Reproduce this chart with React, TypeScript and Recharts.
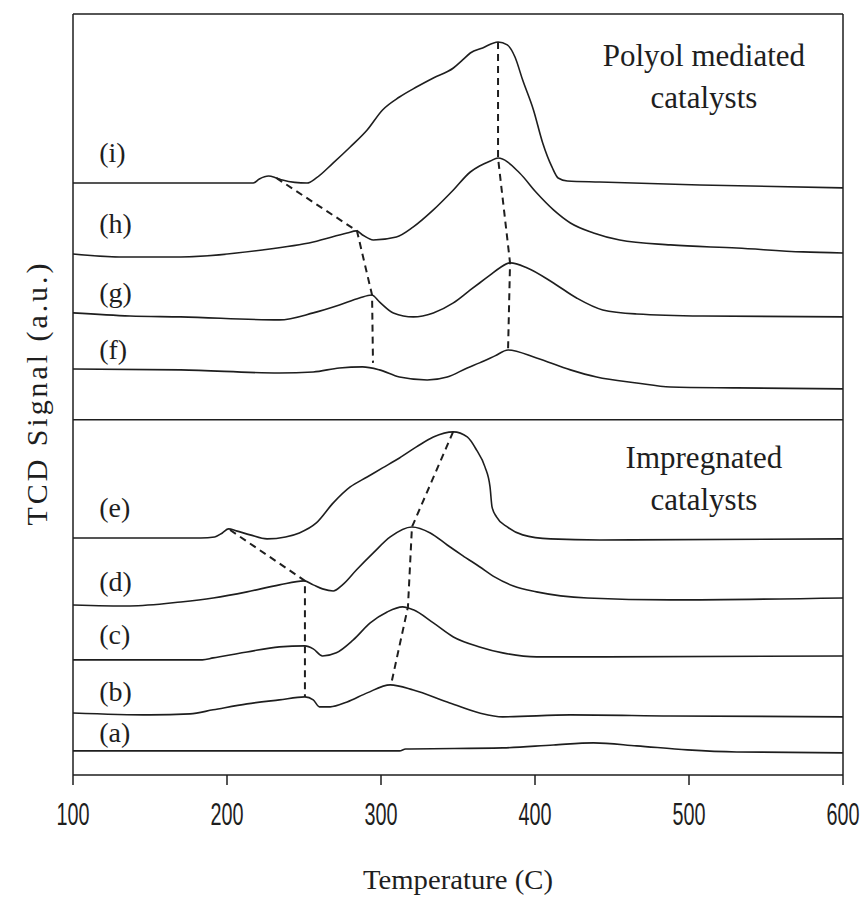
import React from "react";
import { ComposedChart, Line, Scatter, XAxis, YAxis, ReferenceLine, Label } from "recharts";

// [temperature (C), TCD signal (a.u., stacked offsets)]
type Pt = [number, number];

const TEMP_TICKS = [100, 200, 300, 400, 500, 600];
const SIGNAL_TICKS = [0, 1, 2, 3, 4];
const GROUP_DIVIDER = 2.272;

// Impregnated catalysts
const curveA: Pt[] = [
  [100, 0.047], [312, 0.047], [316, 0.06], [379, 0.067], [412, 0.087], [438, 0.101],
  [466, 0.081], [499, 0.054], [531, 0.04], [600, 0.034],
];
const curveB: Pt[] = [
  [100, 0.302], [150, 0.289], [176, 0.296], [191, 0.323], [213, 0.363], [234, 0.39],
  [250.6, 0.41], [256, 0.39], [260, 0.343], [267, 0.343], [278, 0.376], [291, 0.437],
  [306, 0.491], [321, 0.457], [343, 0.376], [364, 0.302], [379, 0.276], [423, 0.289],
  [488, 0.282], [600, 0.276],
];
const curveC: Pt[] = [
  [100, 0.659], [184, 0.659], [191, 0.672], [213, 0.712], [234, 0.746], [250.6, 0.753],
  [256, 0.733], [262, 0.685], [271, 0.706], [282, 0.793], [293, 0.907], [304, 0.981],
  [314, 1.015], [321, 0.995], [334, 0.907], [347, 0.813], [364, 0.746], [379, 0.706],
  [401, 0.679], [444, 0.679], [600, 0.685],
];
const curveD: Pt[] = [
  [100, 1.028], [137, 1.021], [170, 1.048], [191, 1.075], [213, 1.116], [234, 1.163],
  [250, 1.19], [256, 1.163], [262, 1.136], [269, 1.122], [275, 1.163], [284, 1.263],
  [295, 1.378], [306, 1.485], [320, 1.552], [332, 1.512], [343, 1.431], [353, 1.36],
  [364, 1.285], [374, 1.215], [386, 1.155], [401, 1.116], [434, 1.075], [488, 1.062],
  [600, 1.075],
];
const curveE: Pt[] = [
  [100, 1.478], [183, 1.478], [192, 1.485], [197, 1.512], [201, 1.539], [206, 1.526],
  [215, 1.499], [226, 1.472], [238, 1.485], [247, 1.512], [258, 1.579], [269, 1.714],
  [280, 1.821], [291, 1.888], [301, 1.949], [312, 2.016], [323, 2.09], [334, 2.157],
  [347, 2.191], [356, 2.157], [362, 2.07], [367.5, 1.956], [370.8, 1.821], [372.1, 1.687],
  [375, 1.62], [382, 1.552], [392, 1.499], [410, 1.472], [442, 1.465], [600, 1.472],
];

// Polyol mediated catalysts
const curveF: Pt[] = [
  [100, 2.614], [170, 2.608], [234, 2.587], [256, 2.594], [273, 2.621], [288, 2.628],
  [299, 2.608], [312, 2.56], [330, 2.54], [343, 2.56], [356, 2.621], [364, 2.655],
  [374, 2.702], [382.5, 2.742], [401, 2.688], [423, 2.608], [440, 2.56], [466, 2.52],
  [488, 2.493], [531, 2.487], [600, 2.48],
];
const curveG: Pt[] = [
  [100, 2.991], [137, 2.97], [170, 2.964], [234, 2.944], [256, 2.991], [273, 3.044],
  [286, 3.091], [294, 3.111], [299, 3.065], [308, 2.991], [321, 2.964], [334, 2.991],
  [347, 3.058], [358, 3.145], [364, 3.192], [371, 3.246], [377, 3.293], [384, 3.327],
  [395, 3.293], [412, 3.192], [427, 3.091], [444, 3.011], [466, 2.984], [509, 2.97],
  [600, 2.964],
];
const curveH: Pt[] = [
  [100, 3.387], [130, 3.367], [170, 3.367], [223, 3.414], [256, 3.468], [278, 3.528],
  [284, 3.542], [288, 3.515], [295, 3.481], [310, 3.501], [321, 3.569], [334, 3.683],
  [347, 3.817], [358, 3.938], [364, 3.978], [371, 4.012], [376, 4.032], [390, 3.931],
  [401, 3.798], [412, 3.683], [423, 3.595], [438, 3.528], [455, 3.481], [488, 3.448],
  [531, 3.427], [574, 3.401], [600, 3.394],
];
const curveI: Pt[] = [
  [100, 3.864], [182, 3.864], [217, 3.864], [221, 3.891], [227, 3.911], [232, 3.898],
  [236, 3.884], [244, 3.868], [252, 3.864], [258, 3.898], [269, 3.999], [280, 4.106],
  [291, 4.22], [301, 4.355], [312, 4.442], [323, 4.509], [334, 4.57], [347, 4.637],
  [353, 4.691], [358, 4.738], [366, 4.772], [376, 4.812], [382, 4.792], [387, 4.711],
  [392, 4.556], [399, 4.355], [405, 4.133], [411, 3.972], [415, 3.898], [421, 3.878],
  [442, 3.871], [507, 3.851], [600, 3.831],
];

const curves: Pt[][] = [curveA, curveB, curveC, curveD, curveE, curveF, curveG, curveH, curveI];

// dashed guides joining the peaks
const guidePolyolLow: Pt[] = [[232, 3.898], [284.4, 3.542], [294.2, 3.111], [294.8, 2.655]];
const guidePolyolHigh: Pt[] = [[376, 4.812], [376, 4.032], [383.8, 3.327], [382.5, 2.742]];
const guideImpLow: Pt[] = [[202, 1.532], [250.6, 1.19], [250.6, 0.753], [250.6, 0.41]];
const guideImpHigh: Pt[] = [[346.8, 2.191], [320.1, 1.552], [317.5, 1.015], [306.5, 0.491]];
const guides = [guidePolyolLow, guidePolyolHigh, guideImpLow, guideImpHigh];

const curveNames = ["(a)", "(b)", "(c)", "(d)", "(e)", "(f)", "(g)", "(h)", "(i)"];
const curveNameLevels = [0.168, 0.444, 0.827, 1.183, 1.68, 2.742, 3.125, 3.595, 4.066];
const NAME_TEMP = 117;

const groupTitles = ["Polyol mediated", "catalysts", "Impregnated", "catalysts"];
const groupTitleLevels = [4.724, 4.442, 2.016, 1.734];
const TITLE_TEMP = 509.7;

const INK = "#1e1e1e";
const SERIF = "'Liberation Serif', 'Times New Roman', serif";
const SANS = "'Liberation Sans', Arial, sans-serif";

const toRows = (pts: Pt[]) => pts.map(([t, v]) => ({ t, v }));

const nameRows = curveNames.map((text, i) => ({ t: NAME_TEMP, v: curveNameLevels[i], text }));
const titleRows = groupTitles.map((text, i) => ({ t: TITLE_TEMP, v: groupTitleLevels[i], text }));

const TempTick = (props: any) => {
  const { x, y, payload } = props;
  return (
    <g transform={`translate(${x},${y + 38}) scale(0.9,1.4)`}>
      <text textAnchor="middle" fontFamily={SANS} fontSize={22} fill={INK}>
        {payload.value}
      </text>
    </g>
  );
};

export default function App() {
  return (
    <div style={{ position: "absolute", left: 0, top: 0, background: "#fff" }}>
      <ComposedChart width={864} height={902} margin={{ top: 14, right: 21, bottom: 0, left: 0 }}>
        <XAxis
          type="number"
          dataKey="t"
          domain={[100, 600]}
          ticks={TEMP_TICKS}
          allowDataOverflow
          height={127}
          tickSize={10}
          axisLine={{ stroke: INK, strokeWidth: 1.5 }}
          tickLine={{ stroke: INK, strokeWidth: 1.5 }}
          tick={<TempTick />}
        >
          <Label
            content={({ viewBox }: any) => (
              <text
                x={viewBox.x + viewBox.width / 2}
                y={viewBox.y + 114}
                textAnchor="middle"
                fontFamily={SERIF}
                fontSize={28}
                textLength={190}
                lengthAdjust="spacingAndGlyphs"
                fill={INK}
              >
                Temperature (C)
              </text>
            )}
          />
        </XAxis>
        <YAxis
          type="number"
          dataKey="v"
          domain={[-0.115, 5]}
          ticks={SIGNAL_TICKS}
          allowDataOverflow
          width={73}
          tickSize={6}
          tick={false}
          axisLine={{ stroke: INK, strokeWidth: 1.5 }}
          tickLine={{ stroke: INK, strokeWidth: 1.5 }}
        >
          <Label
            content={({ viewBox }: any) => {
              const cx = viewBox.x + 36;
              const cy = viewBox.y + viewBox.height / 2;
              return (
                <text
                  x={cx}
                  y={cy}
                  transform={`rotate(-90, ${cx}, ${cy})`}
                  textAnchor="middle"
                  dominantBaseline="central"
                  fontFamily={SERIF}
                  fontSize={30}
                  textLength={262}
                  lengthAdjust="spacing"
                  fill={INK}
                >
                  TCD Signal (a.u.)
                </text>
              );
            }}
          />
        </YAxis>

        <ReferenceLine y={5} stroke={INK} strokeWidth={1.5} />
        <ReferenceLine x={600} stroke={INK} strokeWidth={1.5} />
        <ReferenceLine y={GROUP_DIVIDER} stroke={INK} strokeWidth={1.5} />

        {curves.map((pts, i) => (
          <Line
            key={curveNames[i]}
            data={toRows(pts)}
            dataKey="v"
            type="monotone"
            stroke={INK}
            strokeWidth={1.6}
            dot={false}
            activeDot={false}
            isAnimationActive={false}
          />
        ))}

        {guides.map((pts, i) => (
          <Line
            key={`guide-${i}`}
            data={toRows(pts)}
            dataKey="v"
            type="linear"
            stroke={INK}
            strokeWidth={2}
            strokeDasharray="7 5"
            dot={false}
            activeDot={false}
            isAnimationActive={false}
          />
        ))}

        <Scatter
          data={nameRows}
          dataKey="v"
          isAnimationActive={false}
          shape={(p: any) => (
            <text x={p.cx} y={p.cy} dominantBaseline="central" fontFamily={SERIF} fontSize={28} fill={INK}>
              {p.payload.text}
            </text>
          )}
        />
        <Scatter
          data={titleRows}
          dataKey="v"
          isAnimationActive={false}
          shape={(p: any) => (
            <text
              x={p.cx}
              y={p.cy}
              textAnchor="middle"
              dominantBaseline="central"
              fontFamily={SERIF}
              fontSize={31}
              fill={INK}
            >
              {p.payload.text}
            </text>
          )}
        />
      </ComposedChart>
    </div>
  );
}
